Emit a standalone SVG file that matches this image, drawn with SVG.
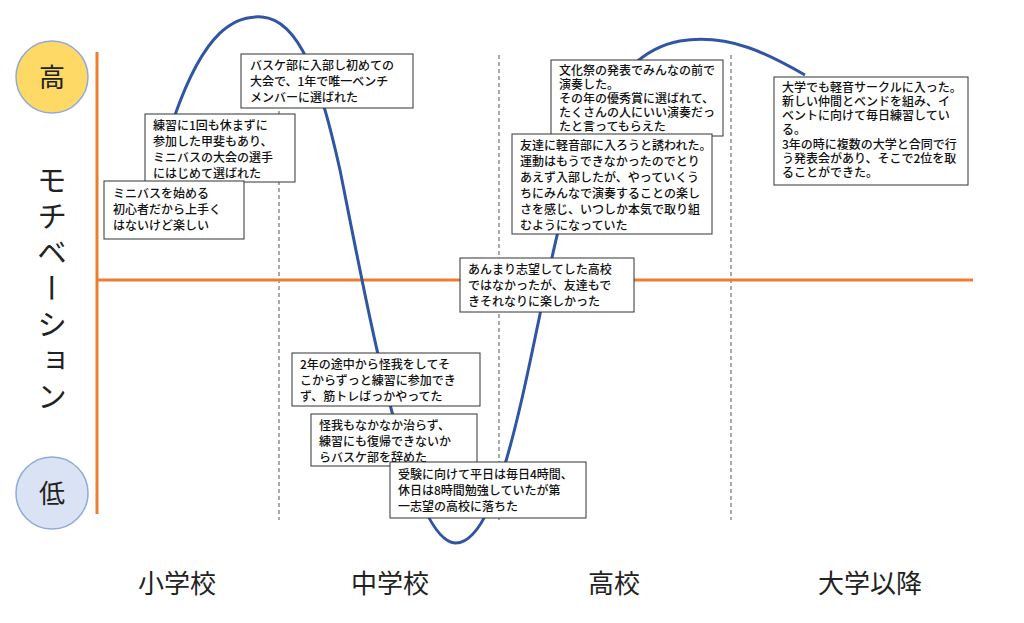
<svg xmlns="http://www.w3.org/2000/svg" width="1024" height="623" viewBox="0 0 1024 623">
<style>
.ax{stroke:#ED7D31;stroke-width:3;fill:none}
.dash{stroke:#555;stroke-width:1;stroke-dasharray:4,3;fill:none}
.box rect{fill:#fff;stroke:#333;stroke-width:1}
.box text{font-family:"Noto Sans CJK JP","Noto Sans",sans-serif;font-size:12px;font-weight:500;fill:#111}
.big{font-family:"Noto Sans CJK JP",sans-serif;font-size:26px;fill:#222}
</style>
<rect width="1024" height="623" fill="#fff"/>
<g id="grid">
<line class="dash" x1="279" y1="55" x2="279" y2="520"/>
<line class="dash" x1="499" y1="55" x2="499" y2="520"/>
<line class="dash" x1="731" y1="55" x2="731" y2="520"/>
</g>
<g id="axes">
<line class="ax" x1="97" y1="52" x2="97" y2="514"/>
<line class="ax" x1="97" y1="280" x2="973" y2="280"/>
</g>
<g id="high"><circle cx="52" cy="77" r="36" fill="#FFD966" stroke="#8FAADC" stroke-width="1.5"/><text class="big" x="52" y="87" text-anchor="middle">高</text></g>
<g id="low"><circle cx="52" cy="493" r="36" fill="#DAE3F3" stroke="#8FAADC" stroke-width="1.5"/><text class="big" x="52" y="503" text-anchor="middle">低</text></g>
<text class="big" x="52" y="165" style="writing-mode:vertical-rl;letter-spacing:6px;font-size:30px">モチベーション</text>
<g id="labels">
<text class="big" x="177" y="593" text-anchor="middle">小学校</text>
<text class="big" x="390" y="593" text-anchor="middle">中学校</text>
<text class="big" x="614" y="593" text-anchor="middle">高校</text>
<text class="big" x="870" y="593" text-anchor="middle">大学以降</text>
</g>
<g id="connectors">
<path d="M175,115 C205,30 235,15 262,17 C300,20 320,80 340,170 C370,320 410,540 455,543 C495,545 520,410 545,290 C570,170 600,55 680,41 C730,33 770,55 805,75" fill="none" stroke="#2F55A4" stroke-width="3"/>
</g>
<g id="n3" class="box"><rect x="241" y="54" width="172" height="54"/><text x="250" y="70">バスケ部に入部し初めての</text><text x="250" y="86">大会で、1年で唯一ベンチ</text><text x="250" y="102">メンバーに選ばれた</text></g>
<g id="n2" class="box"><rect x="145" y="114" width="150" height="68"/><text x="153" y="130">練習に1回も休まずに</text><text x="153" y="146">参加した甲斐もあり、</text><text x="153" y="162">ミニバスの大会の選手</text><text x="153" y="178">にはじめて選ばれた</text></g>
<g id="n1" class="box"><rect x="104" y="181" width="140" height="58"/><text x="113" y="198">ミニバスを始める</text><text x="113" y="214">初心者だから上手く</text><text x="113" y="230">はないけど楽しい</text></g>
<g id="n4" class="box"><rect x="292" y="353" width="188" height="53"/><text x="300" y="369">2年の途中から怪我をしてそ</text><text x="300" y="385">こからずっと練習に参加でき</text><text x="300" y="401">ず、筋トレばっかやってた</text></g>
<g id="n5" class="box"><rect x="311" y="414" width="166" height="52"/><text x="319" y="430">怪我もなかなか治らず、</text><text x="319" y="446">練習にも復帰できないか</text><text x="319" y="462">らバスケ部を辞めた</text></g>
<g id="n6" class="box"><rect x="390" y="462" width="196" height="56"/><text x="398" y="479">受験に向けて平日は毎日4時間、</text><text x="398" y="495">休日は8時間勉強していたが第</text><text x="398" y="511">一志望の高校に落ちた</text></g>
<g id="n7" class="box"><rect x="460" y="258" width="174" height="54"/><text x="468" y="274">あんまり志望してした高校</text><text x="468" y="290">ではなかったが、友達もで</text><text x="468" y="306">きそれなりに楽しかった</text></g>
<g id="n9" class="box"><rect x="551" y="60" width="172" height="76"/><text x="559" y="75">文化祭の発表でみんなの前で</text><text x="559" y="89">演奏した。</text><text x="559" y="103">その年の優秀賞に選ばれて、</text><text x="559" y="117">たくさんの人にいい演奏だっ</text><text x="559" y="131">たと言ってもらえた</text></g>
<g id="n8" class="box"><rect x="512" y="134" width="200" height="100"/><text x="520" y="150">友達に軽音部に入ろうと誘われた。</text><text x="520" y="166">運動はもうできなかったのでとり</text><text x="520" y="182">あえず入部したが、やっていくう</text><text x="520" y="198">ちにみんなで演奏することの楽し</text><text x="520" y="214">さを感じ、いつしか本気で取り組</text><text x="520" y="230">むようになっていた</text></g>
<g id="n10" class="box"><rect x="774" y="77" width="194" height="108"/><text x="782" y="92">大学でも軽音サークルに入った。</text><text x="782" y="106">新しい仲間とベンドを組み、イ</text><text x="782" y="120">ベントに向けて毎日練習してい</text><text x="782" y="134">る。</text><text x="782" y="149">3年の時に複数の大学と合同で行</text><text x="782" y="163">う発表会があり、そこで2位を取</text><text x="782" y="177">ることができた。</text></g>
</svg>
